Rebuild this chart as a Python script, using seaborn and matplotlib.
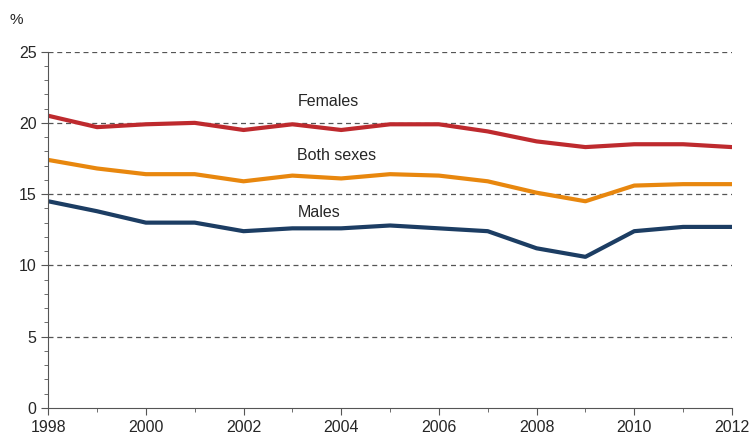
import matplotlib
matplotlib.use("Agg")
import matplotlib.pyplot as plt
import seaborn as sns
import pandas as pd
from matplotlib.ticker import MultipleLocator

years = list(range(1998, 2013))
females = [20.5, 19.7, 19.9, 20.0, 19.5, 19.9, 19.5, 19.9, 19.9, 19.4, 18.7, 18.3, 18.5, 18.5, 18.3]
both = [17.4, 16.8, 16.4, 16.4, 15.9, 16.3, 16.1, 16.4, 16.3, 15.9, 15.1, 14.5, 15.6, 15.7, 15.7]
males = [14.5, 13.8, 13.0, 13.0, 12.4, 12.6, 12.6, 12.8, 12.6, 12.4, 11.2, 10.6, 12.4, 12.7, 12.7]

series = {"Females": (females, "#be2a2e"), "Both sexes": (both, "#e8870e"), "Males": (males, "#1c3d63")}

sns.set_style("white")
plt.rcParams["font.family"] = ["Arial", "Liberation Sans", "DejaVu Sans"]

fig = plt.figure(figsize=(7.53, 4.41), dpi=100)
ax = fig.add_axes([0.064, 0.075, 0.908, 0.808])

for name, (vals, col) in series.items():
    df = pd.DataFrame({"year": years, "value": vals})
    sns.lineplot(data=df, x="year", y="value", color=col, linewidth=3, ax=ax)

ax.set_xlim(1998, 2012)
ax.set_ylim(0, 25)
ax.set_xticks(range(1998, 2013, 2))
ax.xaxis.set_minor_locator(MultipleLocator(1))
ax.set_yticks(range(0, 26, 5))
ax.yaxis.set_minor_locator(MultipleLocator(1))
ax.tick_params(which="both", direction="out", left=True, bottom=True, labelsize=11.5, color="#555555")
ax.tick_params(which="major", length=5)
ax.tick_params(which="minor", length=3)
for y in [5, 10, 15, 20, 25]:
    ax.axhline(y, color="#555555", linestyle=(0, (4, 3)), linewidth=0.9, zorder=0)
for s in ["top", "right"]:
    ax.spines[s].set_visible(False)
for s in ["left", "bottom"]:
    ax.spines[s].set_color("#555555")
ax.set_xlabel("")
ax.set_ylabel("")

ax.text(2003.1, 21.2, "Females", fontsize=11.5)
ax.text(2003.1, 17.4, "Both sexes", fontsize=11.5)
ax.text(2003.1, 13.4, "Males", fontsize=11.5)
fig.text(0.012, 0.945, "%", fontsize=11)

fig.savefig("out.png", dpi=100)
